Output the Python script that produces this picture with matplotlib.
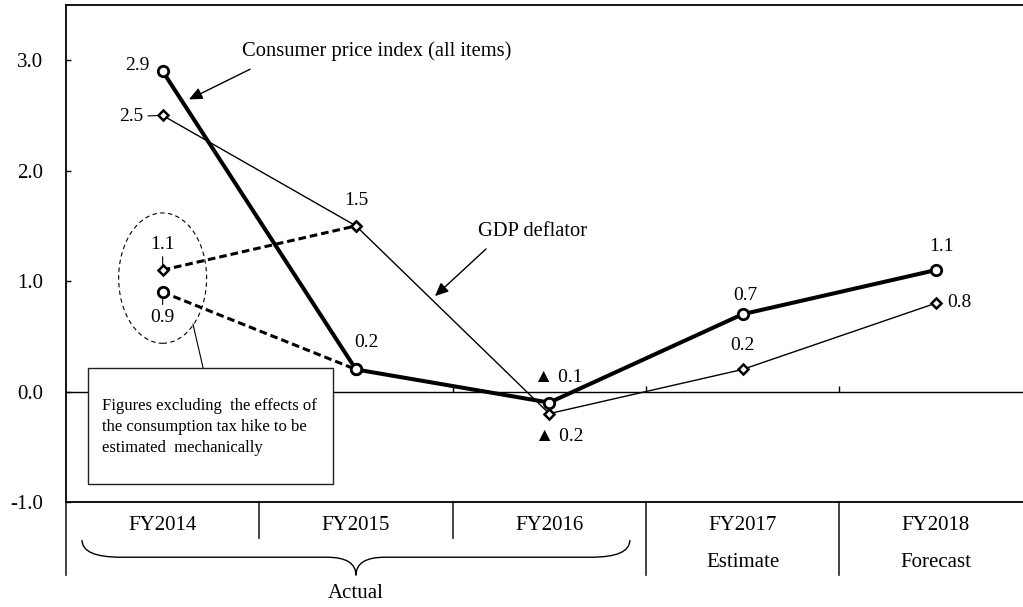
import matplotlib

matplotlib.use("Agg")
import matplotlib.pyplot as plt
from matplotlib.patches import Ellipse, Rectangle, PathPatch
from matplotlib.path import Path
import numpy as np

plt.rcParams["font.family"] = ["Liberation Serif", "DejaVu Serif"]

# data
categories = ["FY2014", "FY2015", "FY2016", "FY2017", "FY2018"]
sub_labels = ["", "", "", "Estimate", "Forecast"]
group_label = "Actual"
cpi = [2.9, 0.2, -0.1, 0.7, 1.1]
gdp = [2.5, 1.5, -0.2, 0.2, 0.8]
cpi_ex_tax = [0.9, 0.2]   # FY2014 -> FY2015, consumption tax effect removed
gdp_ex_tax = [1.1, 1.5]
yticks = [-1.0, 0.0, 1.0, 2.0, 3.0]

cpi_name = "Consumer price index (all items)"
gdp_name = "GDP deflator"
box_text = "Figures excluding  the effects of\nthe consumption tax hike to be\nestimated  mechanically"

PX = 0.72  # points per pixel at dpi 100


def fmt(v):
    return f"\u25b2 {abs(v):.1f}" if v < 0 else f"{v:.1f}"


def main():
    fig = plt.figure(figsize=(10.23, 6.07), dpi=100)
    ax = fig.add_axes([0.0645, 0.1730, 0.9448, 0.8188])
    x = np.arange(len(categories))
    ax.set_xlim(-0.5, len(categories) - 0.5)
    ax.set_ylim(-1.0, 3.5)

    for side in ["left", "top", "bottom"]:
        ax.spines[side].set_linewidth(1.3)
    ax.spines["right"].set_visible(False)
    ax.set_xticks([])
    ax.set_yticks(yticks)
    ax.set_yticklabels([f"{v:.1f}" for v in yticks])
    ax.tick_params(axis="y", direction="in", length=3.6, width=1.0, pad=16.5, labelsize=15)

    # zero line with small ticks at category boundaries
    ax.axhline(0, color="black", lw=1.0, zorder=1)
    bounds = np.arange(len(categories) - 1) + 0.5
    ax.vlines(bounds, 0, 0.05, color="black", lw=1.0, zorder=1)

    # main series
    ax.plot(x, gdp, color="black", lw=1.0, marker="D", ms=5, mfc="white",
            mec="black", mew=1.8, zorder=4)
    ax.plot(x, cpi, color="black", lw=2.9, marker="o", ms=7.5, mfc="white",
            mec="black", mew=2.0, zorder=5)
    x_ex = x[: len(cpi_ex_tax)]
    ax.plot(x_ex, gdp_ex_tax, color="black", lw=2.2, dashes=(2.5, 1.3),
            marker="D", ms=5, mfc="white", mec="black", mew=1.8, zorder=3)
    ax.plot(x_ex, cpi_ex_tax, color="black", lw=2.2, dashes=(2.5, 1.3),
            marker="o", ms=7.5, mfc="white", mec="black", mew=2.0, zorder=3)

    # value labels (offsets in pixels)
    cpi_off = [(-25, 6), (10, 27), (9, 25), (3, 19), (6, 24)]
    gdp_off = [(-31, -1), (0, 25), (10, -23), (0, 24), (24, 1)]
    for i, v in enumerate(cpi):
        dx, dy = cpi_off[i]
        ax.annotate(fmt(v), (x[i], v), xytext=(dx * PX, dy * PX), textcoords="offset points",
                    ha="center", va="center", fontsize=14, zorder=6)
    for i, v in enumerate(gdp):
        dx, dy = gdp_off[i]
        arrow = dict(arrowstyle="-", lw=0.8, shrinkA=1, shrinkB=4) if i == 0 else None
        ax.annotate(fmt(v), (x[i], v), xytext=(dx * PX, dy * PX), textcoords="offset points",
                    ha="center", va="center", fontsize=14, zorder=6, arrowprops=arrow)
    ax.annotate(fmt(gdp_ex_tax[0]), (x[0], gdp_ex_tax[0]), xytext=(0, 26 * PX),
                textcoords="offset points", ha="center", va="center", fontsize=14,
                arrowprops=dict(arrowstyle="-", lw=0.8, shrinkA=1, shrinkB=4))
    ax.annotate(fmt(cpi_ex_tax[0]), (x[0], cpi_ex_tax[0]), xytext=(0, -25 * PX),
                textcoords="offset points", ha="center", va="center", fontsize=14,
                arrowprops=dict(arrowstyle="-", lw=0.8, shrinkA=1, shrinkB=5))

    # series name callouts
    head = dict(arrowstyle="-|>,head_length=0.4,head_width=0.18", color="black",
                lw=1.0, mutation_scale=20, shrinkA=0, shrinkB=0)
    ax.annotate("", xy=(0.136, 2.645), xytext=(0.452, 2.918), arrowprops=head)
    ax.text(0.41, 3.082, cpi_name, fontsize=14.8, ha="left", va="center")
    ax.annotate("", xy=(1.409, 0.864), xytext=(1.673, 1.291), arrowprops=head)
    ax.text(1.631, 1.445, gdp_name, fontsize=14.8, ha="left", va="center")

    # dashed ellipse around the ex-tax values, with note box
    ax.add_patch(Ellipse((x[0], 1.027), 0.455, 1.18, fill=False, ec="black",
                         lw=0.8, ls=(0, (4, 3)), zorder=2))
    ax.plot([0.157, 0.21], [0.61, 0.209], color="black", lw=0.8, zorder=2)
    ax.add_patch(Rectangle((-0.386, -0.836), 1.267, 1.045, fc="white", ec="#222222",
                           lw=1.0, zorder=2))
    ax.text(-0.314, -0.318, box_text, fontsize=12, ha="left", va="center",
            linespacing=1.43, zorder=3)

    # category table below the axes
    kw = dict(color="#222222", lw=1.2, clip_on=False)
    ax.plot([-0.5, -0.5], [-1.0, -1.664], **kw)
    for b in bounds:
        low = -1.664 if b > 2 else -1.327
        ax.plot([b, b], [-1.0, low], **kw)
    for i, name in enumerate(categories):
        ax.text(x[i], -1.209, name, fontsize=15, ha="center", va="center", clip_on=False)
        if sub_labels[i]:
            ax.text(x[i], -1.545, sub_labels[i], fontsize=15, ha="center", va="center")

    # brace under the "Actual" years
    x0, x1, mid = -0.417, 2.417, 1.0
    y_end, y_mid, y_tip = -1.345, -1.5, -1.664
    verts = [(x0, y_end), (x0, y_mid), (x0 + 0.2, y_mid),
             (mid - 0.15, y_mid), (mid, y_mid), (mid, y_tip),
             (mid, y_mid), (mid + 0.15, y_mid),
             (x1 - 0.2, y_mid), (x1, y_mid), (x1, y_end)]
    codes = [Path.MOVETO, Path.CURVE3, Path.CURVE3,
             Path.LINETO, Path.CURVE3, Path.CURVE3,
             Path.CURVE3, Path.CURVE3,
             Path.LINETO, Path.CURVE3, Path.CURVE3]
    ax.add_patch(PathPatch(Path(verts, codes), fill=False, ec="black", lw=1.0, clip_on=False))
    ax.text(mid, -1.827, group_label, fontsize=15, ha="center", va="center")

    fig.savefig("out.png", dpi=100)
    plt.close(fig)


if __name__ == "__main__":
    main()
